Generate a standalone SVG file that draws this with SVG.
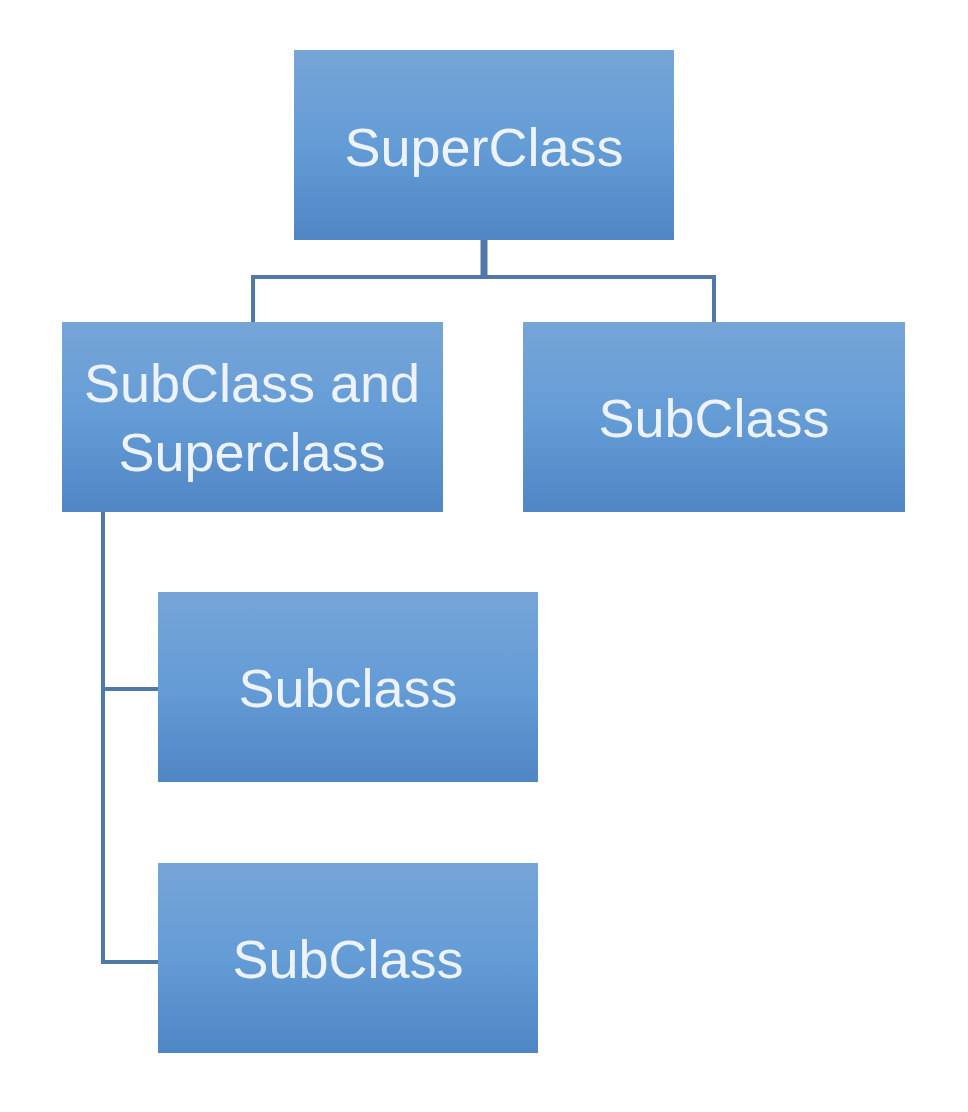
<svg xmlns="http://www.w3.org/2000/svg" width="968" height="1112" viewBox="0 0 968 1112">
<defs>
<linearGradient id="g" x1="0" y1="0" x2="0" y2="1">
<stop offset="0" stop-color="#76a5d7"/>
<stop offset="0.5" stop-color="#649cd6"/>
<stop offset="1" stop-color="#4f86c4"/>
</linearGradient>
</defs>
<style>
.box{fill:url(#g);}
.t{font-family:"Liberation Sans",Arial,sans-serif;font-size:54px;fill:#eef3fb;text-anchor:middle;}
.c{fill:none;stroke:#5079aa;stroke-width:4;}
</style>
<rect width="968" height="1112" fill="#ffffff"/>
<g id="connectors">
<line class="c" x1="484" y1="240" x2="484" y2="278" style="stroke-width:7"/>
<polyline class="c" points="253,322 253,277 714,277 714,322"/>
<polyline class="c" points="103,512 103,962 158,962"/>
<line class="c" x1="103" y1="689" x2="158" y2="689"/>
</g>
<g id="superclass">
<rect class="box" x="294" y="50" width="380" height="190"/>
<text class="t" x="484" y="166">SuperClass</text>
</g>
<g id="subclass-and-superclass">
<rect class="box" x="62" y="322" width="381" height="190"/>
<text class="t" x="252" y="402">SubClass and</text>
<text class="t" x="252" y="471">Superclass</text>
</g>
<g id="subclass-right">
<rect class="box" x="523" y="322" width="382" height="190"/>
<text class="t" x="714" y="437">SubClass</text>
</g>
<g id="subclass-1">
<rect class="box" x="158" y="592" width="380" height="190"/>
<text class="t" x="348" y="707">Subclass</text>
</g>
<g id="subclass-2">
<rect class="box" x="158" y="863" width="380" height="190"/>
<text class="t" x="348" y="978">SubClass</text>
</g>
</svg>
